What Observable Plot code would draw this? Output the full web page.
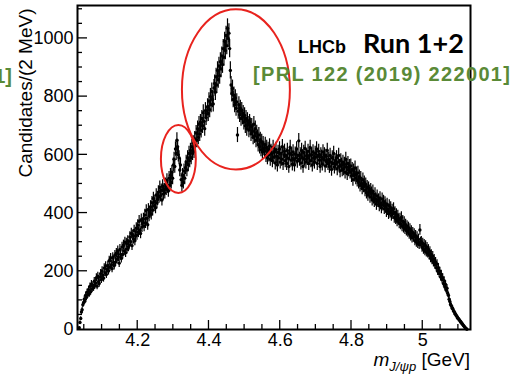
<!DOCTYPE html>
<html>
<head>
<meta charset="utf-8">
<script src="https://cdn.jsdelivr.net/npm/d3@7"></script>
<script src="https://cdn.jsdelivr.net/npm/@observablehq/plot@0.6"></script>
<style>
  html, body { margin: 0; padding: 0; background: #fff; }
  #chart { position: relative; width: 512px; height: 374px; overflow: hidden; }
  #chart svg { display: block; }
</style>
</head>
<body>
<div id="chart"></div>
<script>
// J/psi p invariant-mass spectrum, 2 MeV bins starting at threshold
const firstBinCenter = 4.036; // GeV
const binWidth = 0.002;       // GeV
const counts = [
  6,24,38,60,68,85,92,104,98,118,
  110,128,119,137,122,148,130,156,139,151,
  143,166,151,160,178,149,183,165,158,180,
  192,171,201,186,176,211,195,218,189,206,
  220,201,236,214,245,222,209,248,230,219,
  255,232,262,241,270,249,228,275,258,244,
  283,258,290,270,300,264,296,276,305,284,
  290,318,302,330,288,324,311,340,305,321,
  348,325,358,334,372,341,330,377,352,365,
  380,355,393,366,408,382,360,412,390,401,
  422,396,436,410,450,425,440,418,462,435,
  447,472,455,488,460,478,445,492,466,480,
  470,498,482,512,490,476,520,495,530,505,
  540,520,565,585,560,620,605,650,628,600,
  590,548,565,515,495,530,505,545,520,556,
  575,548,590,566,605,580,615,590,628,605,
  640,612,655,632,675,650,690,660,705,672,
  712,684,725,700,745,715,690,752,728,740,
  765,742,785,755,800,772,818,790,775,830,
  845,815,868,840,890,858,905,872,920,895,
  940,910,965,935,990,958,1010,975,1035,1000,
  1018,965,890,840,810,828,790,805,772,795,
  760,782,668,750,772,738,760,725,752,730,
  742,712,735,700,725,690,718,705,685,712,
  700,672,698,680,660,705,665,690,650,676,
  660,635,668,628,652,618,645,610,638,622,
  612,635,598,625,590,618,600,630,585,612,
  605,580,625,592,610,572,618,595,565,608,
  590,620,575,605,585,628,570,600,612,580,
  598,570,615,588,560,605,625,582,600,568,
  610,585,565,602,590,620,578,598,648,585,
  600,572,615,590,560,608,585,622,575,596,
  588,612,570,598,625,580,600,565,610,590,
  575,605,592,620,570,598,612,582,560,600,
  592,568,610,585,600,562,595,578,615,570,
  585,560,598,575,550,590,570,605,558,580,
  568,590,552,575,598,560,545,580,565,548,
  575,552,568,540,585,558,535,570,548,560,
  540,562,528,550,515,545,530,555,520,535,
  512,538,505,525,495,520,500,485,515,492,
  505,478,498,470,490,462,485,475,455,480,
  468,445,475,452,440,465,448,430,458,440,
  445,425,452,432,418,448,428,440,415,435,
  425,405,430,412,398,425,402,418,392,410,
  398,415,385,402,380,395,372,390,378,365,
  380,362,385,355,372,350,368,345,360,340,
  355,335,350,328,345,322,338,315,332,318,
  328,305,322,300,318,295,310,292,342,300,
  302,282,296,275,292,270,288,265,282,262,
  275,255,268,245,258,238,252,230,242,222,
  232,212,225,200,212,192,200,180,190,172,
  178,158,168,146,155,135,142,124,118,104,
  96,86,82,74,72,64,62,54,53,47,
  45,39,38,33,31,26,25,20,18,14,
  11,8,5,3,1
];

// axes
const xDomain = [4.031, 5.134];
const yDomain = [0, 1113];
const xMajorTicks = [4.2, 4.4, 4.6, 4.8, 5.0];
const xMinorTicks = [4.05, 4.1, 4.15, 4.25, 4.3, 4.35, 4.45, 4.5, 4.55, 4.65, 4.7, 4.75, 4.85, 4.9, 4.95, 5.05, 5.1];
const yMajorTicks = [0, 200, 400, 600, 800, 1000];
const yMinorTicks = [50, 100, 150, 250, 300, 350, 450, 500, 550, 650, 700, 750, 850, 900, 950, 1050, 1100];

// highlighted structures: centre and half-axes in data units
const regionCenterM = [4.3155, 4.477];
const regionCenterN = [584, 823];
const regionHalfM = [0.049, 0.1515];
const regionHalfN = [117, 275];

const bins = counts.map((n, i) => ({
  m: firstBinCenter + i * binWidth,
  n,
  err: Math.sqrt(n)
}));

const sans = "'Liberation Sans', Arial, Helvetica, sans-serif";

const plot = Plot.plot({
  width: 512,
  height: 374,
  marginLeft: 77,
  marginRight: 42,
  marginTop: 5,
  marginBottom: 45,
  style: { fontFamily: sans, background: "#fff", color: "#000" },
  x: { domain: xDomain },
  y: { domain: yDomain },
  marks: [
    Plot.ruleX(bins, { x: "m", y1: d => d.n - d.err, y2: d => d.n + d.err, stroke: "#000", strokeWidth: 1.2 }),
    Plot.dot(bins, { x: "m", y: "n", r: 1.7, fill: "#000", stroke: null }),
    Plot.axisX(xMajorTicks, { tickSize: 0, tickPadding: 4, fontSize: 18, label: null, tickFormat: d => String(d) }),
    Plot.axisY(yMajorTicks, { tickSize: 0, tickPadding: 4, fontSize: 18, label: null, tickFormat: d => String(d) }),
    Plot.frame({ stroke: "#000", strokeWidth: 2 })
  ]
});

document.getElementById("chart").appendChild(plot);

const xs = plot.scale("x");
const ys = plot.scale("y");
const svg = d3.select(plot);
const xLeft = xs.apply(xDomain[0]);
const yBottom = ys.apply(0);

// inward ticks on the bottom and left edges
const tickLayer = svg.append("g").attr("stroke", "#000").attr("stroke-width", 1.3);
const addXTicks = (vals, len) => vals.forEach(v => {
  tickLayer.append("line")
    .attr("x1", xs.apply(v)).attr("x2", xs.apply(v))
    .attr("y1", yBottom).attr("y2", yBottom - len);
});
const addYTicks = (vals, len) => vals.forEach(v => {
  tickLayer.append("line")
    .attr("x1", xLeft).attr("x2", xLeft + len)
    .attr("y1", ys.apply(v)).attr("y2", ys.apply(v));
});
addXTicks(xMajorTicks, 9);
addXTicks(xMinorTicks, 5);
addYTicks(yMajorTicks.filter(v => v > 0), 10);
addYTicks(yMinorTicks, 5);

// red ellipses around the structures
regionCenterM.forEach((cm, i) => {
  const cx = xs.apply(cm), cy = ys.apply(regionCenterN[i]);
  svg.append("ellipse")
    .attr("cx", cx).attr("cy", cy)
    .attr("rx", xs.apply(cm + regionHalfM[i]) - cx)
    .attr("ry", cy - ys.apply(regionCenterN[i] + regionHalfN[i]))
    .attr("fill", "none").attr("stroke", "#e8231e").attr("stroke-width", 2);
});

// helper for text with explicit font settings
function label(x, y, str, opts) {
  const t = svg.append("text").attr("x", x).attr("y", y)
    .style("font-family", opts.family || sans)
    .style("font-size", opts.size + "px")
    .style("font-weight", opts.weight || "normal")
    .style("fill", opts.fill || "#000")
    .attr("text-anchor", opts.anchor || "start");
  if (str !== null) t.text(str);
  return t;
}

// axis titles
label(0, 0, "Candidates/(2 MeV)", { size: 19, anchor: "middle" })
  .attr("x", null).attr("y", null)
  .attr("transform", "translate(32,93) rotate(-90)");

const xt = label(470, 366, null, { size: 19, anchor: "end" });
xt.append("tspan").style("font-style", "italic").text("m");
xt.append("tspan").style("font-style", "italic").style("font-size", "13px").attr("dy", 5).text("J/ψp");
xt.append("tspan").attr("dy", -5).text(" [GeV]");

// experiment labels
label(298, 53, "LHCb", { size: 18, weight: "bold" });
label(363, 53, "Run 1+2", { size: 27, weight: "bold", family: "Lato, 'Open Sans', sans-serif" });
label(253, 81, "[PRL 122 (2019) 222001]", { size: 20, weight: "bold", fill: "#5a8a37" })
  .attr("textLength", 257).attr("lengthAdjust", "spacing");
label(12, 83, "1]", { size: 20, weight: "bold", fill: "#5a8a37", anchor: "end" });
</script>
</body>
</html>
